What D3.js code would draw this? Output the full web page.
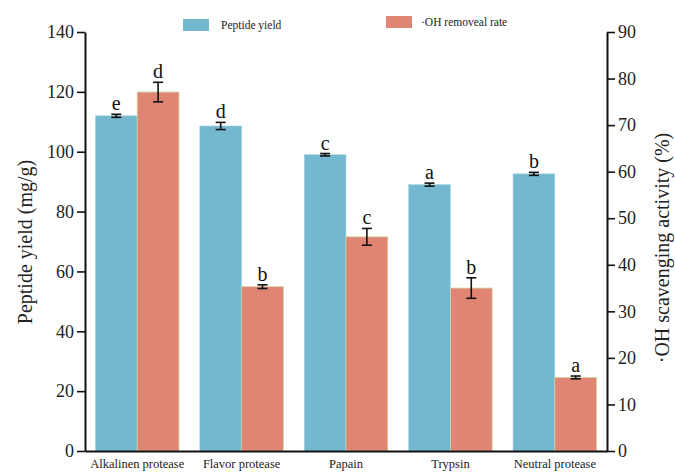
<!DOCTYPE html>
<html><head><meta charset="utf-8">
<script src="https://cdn.jsdelivr.net/npm/d3@7"></script>
<style>body{margin:0;background:#fff}svg{display:block}</style>
</head><body>
<script>
const categories = ["Alkalinen protease","Flavor protease","Papain","Trypsin","Neutral protease"];
const peptideYield = [112.0, 108.6, 99.0, 89.0, 92.6];
const peptideErr = [0.5, 1.2, 0.4, 0.5, 0.5];
const peptideLetters = ["e","d","c","a","b"];
const ohRate = [77.1, 35.3, 46.0, 35.0, 15.8];
const ohErr = [2.1, 0.4, 1.8, 2.2, 0.3];
const ohLetters = ["d","b","c","b","a"];
const leftTicks = [0,20,40,60,80,100,120,140];
const rightTicks = [0,10,20,30,40,50,60,70,80,90];

const W=675,H=472;
const svg=d3.select("body").append("svg").attr("width",W).attr("height",H);
const x0=85,x1=607,yTop=32,yBot=451;
const font="'Liberation Serif','Times New Roman',serif";
const blue="#74b8d0", red="#e08474";

const x=d3.scaleBand().domain(categories).range([x0,x1]).paddingInner(0.2).paddingOuter(0.1);
const xs=d3.scaleBand().domain(["p","o"]).range([0,x.bandwidth()]);
const yL=d3.scaleLinear().domain([0,140]).range([yBot,yTop]);
const yR=d3.scaleLinear().domain([0,90]).range([yBot,yTop]);

const g=svg.append("g");
categories.forEach((c,i)=>{
  const bx=x(c);
  g.append("rect").attr("x",bx+xs("p")).attr("y",yL(peptideYield[i])).attr("width",xs.bandwidth()).attr("height",yBot-yL(peptideYield[i]))
    .attr("fill",blue).attr("stroke","#a9d3e0").attr("stroke-width",0.6);
  g.append("rect").attr("x",bx+xs("o")).attr("y",yR(ohRate[i])).attr("width",xs.bandwidth()).attr("height",yBot-yR(ohRate[i]))
    .attr("fill",red).attr("stroke","#cfd6a0").attr("stroke-width",0.8);
  const drawErr=(cx,yv,e,sc,letter)=>{
    const yt=sc(yv+e), yb=sc(yv-e);
    g.append("line").attr("x1",cx).attr("x2",cx).attr("y1",yt).attr("y2",yb).attr("stroke","#111").attr("stroke-width",1.6);
    [yt,yb].forEach(yy=>g.append("line").attr("x1",cx-5).attr("x2",cx+5).attr("y1",yy).attr("y2",yy).attr("stroke","#111").attr("stroke-width",1.6));
    g.append("text").attr("x",cx).attr("y",yt-4).attr("text-anchor","middle").attr("font-family",font).attr("font-size",20).attr("fill","#111").text(letter);
  };
  drawErr(bx+xs("p")+xs.bandwidth()/2,peptideYield[i],peptideErr[i],yL,peptideLetters[i]);
  drawErr(bx+xs("o")+xs.bandwidth()/2,ohRate[i],ohErr[i],yR,ohLetters[i]);
});

const axL=svg.append("g").attr("transform",`translate(${x0},0)`).call(d3.axisLeft(yL).tickValues(leftTicks).tickSize(8).tickSizeOuter(0));
const axR=svg.append("g").attr("transform",`translate(${x1},0)`).call(d3.axisRight(yR).tickValues(rightTicks).tickSize(8).tickSizeOuter(0));
[axL,axR].forEach(a=>{
  a.select(".domain").attr("stroke","#111").attr("stroke-width",2);
  a.selectAll(".tick line").attr("stroke","#111").attr("stroke-width",1.6);
  a.selectAll(".tick text").attr("font-family",font).attr("font-size",18).attr("fill","#222");
});
axL.selectAll(".tick text").attr("x",-11);
axR.selectAll(".tick text").attr("x",11);
const axB=svg.append("g").attr("transform",`translate(0,${yBot})`).call(d3.axisBottom(x).tickSize(0).tickSizeOuter(0));
axB.select(".domain").attr("stroke","#111").attr("stroke-width",2);
axB.selectAll(".tick text").attr("font-family",font).attr("font-size",12.5).attr("fill","#222").attr("dy",0).attr("y",17);

svg.append("text").attr("transform",`translate(32,242) rotate(-90)`).attr("text-anchor","middle")
  .attr("font-family",font).attr("font-size",20).attr("fill","#222").text("Peptide yield (mg/g)");
svg.append("text").attr("transform",`translate(669,248) rotate(-90)`).attr("text-anchor","middle")
  .attr("font-family",font).attr("font-size",20).attr("fill","#222").text("·OH scavenging activity (%)");

svg.append("rect").attr("x",183).attr("y",19).attr("width",26).attr("height",12).attr("fill",blue);
svg.append("text").attr("x",221).attr("y",29).attr("font-family",font).attr("font-size",11.5).attr("fill","#222").text("Peptide yield");
svg.append("rect").attr("x",386).attr("y",16).attr("width",26).attr("height",12).attr("fill",red);
svg.append("text").attr("x",421).attr("y",26).attr("font-family",font).attr("font-size",11.5).attr("fill","#222").text("·OH removeal rate");
</script>
</body></html>
